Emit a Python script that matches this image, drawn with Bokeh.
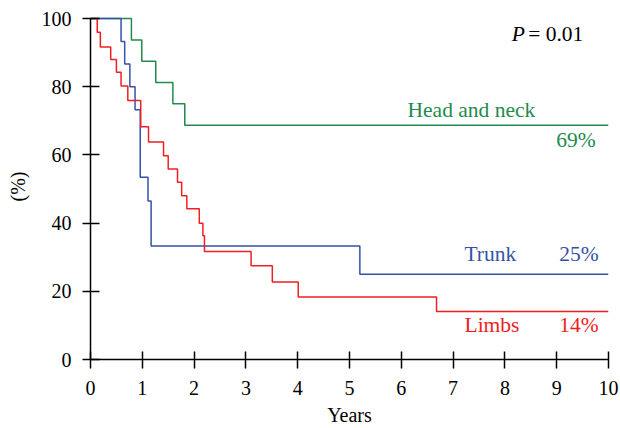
from bokeh.plotting import figure
from bokeh.models import Range1d, FixedTicker
from bokeh.core.properties import value
from bokeh.embed import file_html
from bokeh.resources import INLINE

# Kaplan-Meier style survival data (years, %)
head_t = [0, 0.79, 0.99, 1.26, 1.59, 1.82, 10]
head_s = [100, 93.75, 87.5, 81.25, 75.0, 68.75, 68.75]

trunk_t = [0, 0.59, 0.66, 0.76, 0.86, 0.96, 1.11, 1.17, 5.2, 10]
trunk_s = [100, 93.3, 86.7, 80.0, 73.3, 53.5, 46.5, 33.3, 25.0, 25.0]

limbs_t = [0, 0.13, 0.19, 0.39, 0.50, 0.59, 0.72, 0.97, 1.12, 1.41, 1.50, 1.68,
           1.76, 1.86, 2.10, 2.17, 2.20, 3.10, 3.51, 4.01, 6.68, 10]
limbs_s = [100, 96.0, 91.7, 88.0, 84.3, 80.2, 76.0, 68.3, 63.8, 59.8, 55.9, 52.0,
           48.0, 44.2, 40.0, 36.3, 31.7, 27.5, 22.7, 18.3, 14.1, 14.1]

x_ticks = [0, 1, 2, 3, 4, 5, 6, 7, 8, 9, 10]
y_ticks = [0, 20, 40, 60, 80, 100]

GREEN = "#23894d"
BLUE = "#3552a6"
RED = "#f01e22"
FONT = "Liberation Serif"
FS = "21.5px"
TFS = "20px"

p = figure(width=620, height=428, output_backend="svg", toolbar_location=None,
           x_range=Range1d(0, 10), y_range=Range1d(0, 101.5),
           min_border_left=90, min_border_right=12, min_border_top=13,
           min_border_bottom=69)
p.outline_line_color = None
p.xgrid.visible = False
p.ygrid.visible = False
p.background_fill_color = "white"
p.border_fill_color = "white"

p.step(head_t, head_s, mode="after", line_color=GREEN, line_width=1.5)
p.step(trunk_t, trunk_s, mode="after", line_color=BLUE, line_width=1.5)
p.step(limbs_t, limbs_s, mode="after", line_color=RED, line_width=1.5)

for ax in (p.xaxis[0], p.yaxis[0]):
    ax.axis_line_width = 1.5
    ax.axis_line_color = "black"
    ax.major_tick_line_color = "black"
    ax.major_tick_line_width = 1.5
    ax.minor_tick_line_color = None
    ax.major_label_text_font = FONT
    ax.major_label_text_font_size = TFS
    ax.major_label_text_color = "black"
    ax.axis_label_text_font = FONT
    ax.axis_label_text_font_size = TFS
    ax.axis_label_text_font_style = "normal"
    ax.axis_label_text_color = "black"

p.xaxis[0].ticker = FixedTicker(ticks=x_ticks)
p.yaxis[0].ticker = FixedTicker(ticks=y_ticks)
p.xaxis[0].bounds = (0, 10)
p.yaxis[0].bounds = (0, 100)
p.xaxis[0].major_tick_in = 8
p.xaxis[0].major_tick_out = 9
p.yaxis[0].major_tick_in = 9
p.yaxis[0].major_tick_out = 8
p.xaxis[0].major_label_standoff = 12
p.yaxis[0].major_label_standoff = 11
p.xaxis[0].axis_label = "Years"
p.yaxis[0].axis_label = "(%)"
p.xaxis[0].axis_label_standoff = 6
p.yaxis[0].axis_label_standoff = 10

tf = value(FONT)
def label(x, y, s, color, align, style="normal"):
    p.text(x=[x], y=[y], text=[s], text_font=tf, text_font_size=FS,
           text_font_style=style, text_color=color, text_align=align,
           text_baseline="alphabetic")

label(6.12, 73.3, "Head and neck", GREEN, "left")
label(9.75, 64.4, "69%", GREEN, "right")
label(7.22, 31.0, "Trunk", BLUE, "left")
label(9.81, 31.0, "25%", BLUE, "right")
label(7.22, 10.1, "Limbs", RED, "left")
label(9.81, 10.1, "14%", RED, "right")
label(8.13, 95.5, "P", "black", "left", "italic")
label(8.45, 95.5, "= 0.01", "black", "left")

open("out.html", "w").write(file_html(p, INLINE))
